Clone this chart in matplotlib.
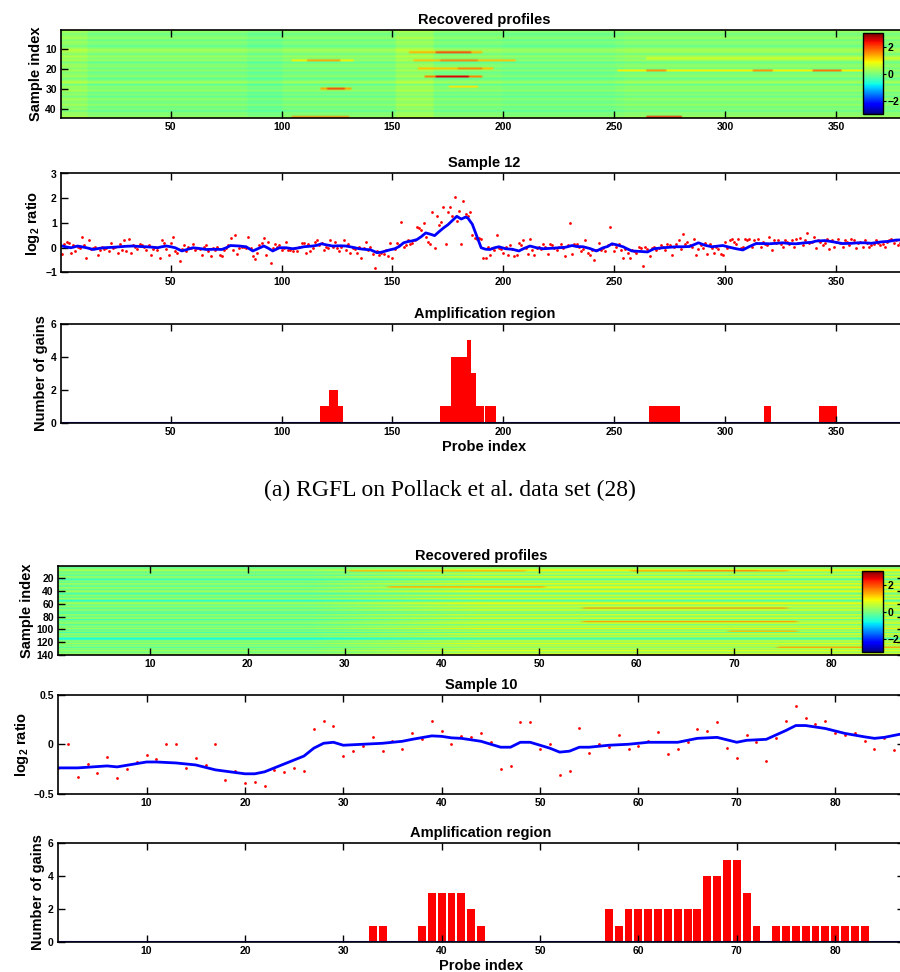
import numpy as np
import matplotlib
matplotlib.use("Agg")
import matplotlib.pyplot as plt
from matplotlib.ticker import FuncFormatter

plt.rcParams['font.family'] = ['Liberation Sans', 'DejaVu Sans']
plt.rcParams['font.weight'] = 'bold'
plt.rcParams['axes.titleweight'] = 'bold'
plt.rcParams['axes.labelweight'] = 'bold'
plt.rcParams['axes.titlesize'] = 10.5
plt.rcParams['axes.labelsize'] = 10.5
plt.rcParams['mathtext.fontset'] = 'custom'
plt.rcParams['mathtext.rm'] = 'Liberation Sans:bold'
plt.rcParams['mathtext.it'] = 'Liberation Sans:bold'
plt.rcParams['mathtext.bf'] = 'Liberation Sans:bold'

# ---------------- panel (a): Pollack data ----------------
a_n_probes = 382
a_n_samples = 44

# background level of each sample row
a_row_base = [0.2, 0.1, -0.1, 0.0, 0.2, -0.15, 0.1, 0.0, -0.2, 0.1,
              0.3, 0.15, -0.1, 0.25, 0.0, 0.2, -0.2, 0.05, 0.1, -0.1,
              0.15, -0.15, 0.0, 0.1, -0.2, 0.05, 0.3, -0.25, 0.1, 0.0,
              0.2, -0.15, 0.05, -0.2, 0.15, 0.0, -0.1, 0.2, -0.15, 0.05,
              -0.2, 0.1, 0.0, 0.25]
# (first probe, last probe, shift)
a_col_bands = [(1, 12, 0.15), (85, 100, -0.1), (152, 168, 0.2),
               (200, 250, -0.05), (255, 382, 0.05)]
# (sample, first probe, last probe, value)
a_hot = [(16, 105, 132, 0.9), (16, 112, 126, 1.4),
         (30, 118, 131, 1.4), (30, 121, 128, 2.0),
         (12, 158, 190, 1.3), (12, 170, 185, 2.0),
         (16, 160, 205, 1.2), (16, 172, 188, 1.6),
         (20, 162, 195, 1.2), (20, 180, 190, 1.6),
         (24, 165, 190, 1.6), (24, 170, 184, 2.5),
         (29, 176, 188, 1.0),
         (15, 265, 382, 0.6),
         (21, 252, 370, 0.9), (21, 265, 273, 1.5), (21, 313, 321, 1.5), (21, 340, 352, 1.7),
         (44, 105, 130, 1.5), (44, 265, 280, 2.2)]

a_ratio = [-0.25, 0.15, 0.25, 0.2, -0.2, 0.1, -0.15, 0.05, 0.0, 0.45,
           0.1, -0.4, 0.3, -0.05, 0.0, 0.05, -0.3, -0.1, 0.05, -0.05,
           0.0, -0.15, 0.2, 0.0, 0.05, -0.2, 0.15, -0.1, 0.3, -0.15,
           0.35, -0.2, 0.1, 0.05, -0.05, 0.15, 0.1, 0.05, -0.1, 0.1,
           -0.3, -0.05, 0.05, -0.1, -0.4, 0.3, 0.2, -0.05, -0.3, 0.2,
           0.45, -0.15, -0.2, -0.55, -0.05, 0.1, -0.15, 0.05, 0.0, 0.15,
           -0.1, 0.0, -0.05, -0.3, 0.05, 0.1, -0.15, -0.35, 0.0, -0.1,
           0.05, -0.3, -0.35, -0.1, 0.0, 0.1, 0.4, -0.1, 0.5, -0.25,
           0.0, 0.05, 0.05, 0.0, 0.45, 0.0, -0.35, -0.45, -0.2, 0.1,
           0.2, 0.4, -0.3, 0.25, -0.6, 0.0, 0.15, 0.05, 0.1, -0.1,
           0.0, 0.25, -0.1, -0.1, -0.15, 0.0, -0.15, 0.05, 0.2, 0.2,
           -0.2, 0.15, -0.15, 0.0, 0.25, 0.3, 0.1, 0.2, -0.1, 0.05,
           0.0, 0.3, 0.05, 0.25, 0.0, -0.15, 0.05, 0.3, -0.1, 0.15,
           -0.2, 0.0, -0.05, -0.2, 0.05, -0.4, 0.0, 0.25, -0.1, 0.05,
           -0.25, -0.8, -0.15, -0.3, -0.2, -0.25, -0.1, -0.35, 0.2, -0.4,
           -0.05, 0.2, 0.1, 1.05, 0.05, 0.1, 0.3, 0.15, 0.2, 0.3,
           0.85, 0.8, 0.7, 1.0, 0.45, 0.25, 0.15, 1.45, 0.0, 1.3,
           0.9, 1.05, 1.65, 0.15, 1.45, 1.65, 1.3, 2.05, 1.1, 1.5,
           0.15, 1.9, 1.35, 1.3, 1.45, 0.5, 0.4, 0.35, 0.4, 0.35,
           -0.4, -0.4, 0.05, -0.3, 0.0, -0.1, 0.5, 0.0, -0.05, -0.2,
           0.05, -0.3, 0.1, -0.05, -0.35, -0.3, 0.2, 0.1, 0.3, 0.0,
           -0.25, 0.35, -0.1, -0.3, 0.0, 0.05, -0.05, 0.15, 0.05, -0.25,
           0.15, 0.1, 0.0, -0.1, 0.05, 0.15, 0.0, -0.35, 0.1, 1.0,
           -0.25, 0.15, 0.15, 0.05, -0.15, -0.05, 0.3, -0.2, -0.3, -0.1,
           -0.5, -0.1, 0.2, -0.1, 0.0, -0.15, 0.1, 0.85, 0.15, -0.15,
           0.05, 0.15, -0.1, -0.4, -0.05, -0.2, -0.4, -0.1, -0.15, -0.2,
           0.05, 0.0, -0.75, 0.05, -0.05, -0.35, 0.0, 0.05, -0.1, 0.0,
           0.1, 0.05, -0.1, 0.15, 0.1, -0.3, 0.05, 0.15, 0.3, -0.05,
           0.55, 0.15, 0.25, 0.1, 0.05, 0.35, -0.3, -0.05, 0.1, 0.0,
           0.2, -0.25, 0.15, 0.0, -0.2, 0.05, -0.05, -0.25, -0.3, 0.25,
           0.0, 0.3, 0.35, 0.25, 0.15, 0.35, 0.0, 0.05, 0.35, 0.3,
           0.35, 0.05, 0.3, 0.2, 0.35, 0.05, 0.25, 0.15, 0.1, 0.45,
           -0.1, 0.3, 0.2, 0.3, 0.15, 0.05, 0.3, 0.25, 0.15, 0.3,
           0.05, 0.35, 0.2, 0.4, 0.1, 0.3, 0.6, 0.2, 0.25, 0.45,
           0.0, 0.3, 0.25, 0.1, 0.2, 0.35, -0.05, 0.3, 0.05, 0.25,
           0.35, 0.2, 0.05, 0.3, 0.25, 0.1, 0.35, 0.3, 0.0, 0.2,
           0.25, 0.05, 0.3, 0.2, 0.05, 0.1, 0.15, 0.3, 0.2, 0.1,
           0.15, 0.05, 0.25, 0.3, 0.35, 0.2, 0.3, 0.1, 0.2, 0.35,
           0.15, 0.25]

a_fit_x = [1, 3, 5, 8, 12, 15, 18, 20, 24, 27, 30, 33, 36, 39, 42, 44, 46, 48, 50, 52,
           55, 57, 60, 63, 66, 70, 73, 75, 77, 79, 81, 84, 87, 89, 92, 94, 96, 99, 102, 105,
           108, 110, 114, 116, 118, 120, 123, 126, 129, 132, 135, 138, 140, 143, 145, 147, 149, 151, 153, 155,
           157, 159, 161, 163, 165, 167, 169, 171, 173, 175, 177, 179, 181, 183, 184, 186, 188, 190, 192, 194,
           196, 198, 201, 204, 207, 209, 212, 215, 218, 222, 225, 228, 231, 233, 236, 239, 242, 245, 247, 249,
           251, 254, 256, 258, 262, 265, 268, 272, 275, 278, 281, 284, 288, 291, 294, 297, 299, 302, 305, 308,
           311, 314, 317, 320, 323, 326, 329, 332, 336, 339, 341, 345, 348, 351, 353, 357, 360, 363, 366, 369,
           371, 374, 377, 380, 382]
a_fit_y = [0.07, 0.03, 0.0, 0.07, 0.0, -0.07, -0.02, 0.0, 0.02, 0.04, 0.06, 0.07, 0.05, 0.04, 0.02, 0.0, 0.04, 0.07, 0.04, 0.0,
           -0.13, -0.08, 0.0, -0.03, -0.07, -0.06, -0.07, 0.0, 0.09, 0.08, 0.07, 0.04, -0.13, -0.05, 0.07, -0.02, -0.13, 0.0, 0.0, -0.04,
           0.0, 0.04, 0.07, 0.1, 0.16, 0.12, 0.07, 0.08, 0.07, 0.02, -0.04, -0.07, -0.08, -0.2, -0.18, -0.13, -0.08, -0.04, 0.05, 0.2,
           0.25, 0.28, 0.33, 0.45, 0.6, 0.55, 0.49, 0.65, 0.8, 0.93, 1.1, 1.27, 1.16, 1.24, 1.2, 0.95, 0.47, 0.0, -0.06, -0.07,
           0.0, 0.04, -0.04, -0.06, -0.13, -0.04, 0.07, 0.0, -0.04, -0.02, 0.0, 0.02, 0.09, 0.05, 0.04, -0.03, -0.13, 0.0, 0.05, 0.16,
           0.12, 0.04, -0.05, -0.13, -0.15, -0.17, -0.04, 0.0, 0.02, 0.04, 0.04, 0.05, 0.2, 0.1, 0.04, 0.07, 0.09, 0.02, -0.04, -0.09,
           0.05, 0.17, 0.17, 0.16, 0.18, 0.2, 0.17, 0.16, 0.2, 0.22, 0.27, 0.29, 0.25, 0.2, 0.17, 0.18, 0.2, 0.2, 0.18, 0.22,
           0.24, 0.26, 0.31, 0.32, 0.33]

a_gain_probe = [118, 119, 120, 121, 122, 123, 124, 125, 126, 127,
                172, 173, 174, 175, 176, 177, 178, 179, 180, 181, 182, 183, 184, 185, 186, 187,
                188, 189, 190, 191, 192, 193, 194, 195, 196,
                266, 267, 268, 269, 270, 271, 272, 273, 274, 275, 276, 277, 278, 279,
                318, 319, 320, 343, 344, 345, 346, 347, 348, 349, 350]
a_gain_count = [1, 1, 1, 1, 2, 2, 2, 2, 1, 1,
                1, 1, 1, 1, 1, 4, 4, 4, 4, 4, 4, 4, 5, 5, 3, 3,
                1, 1, 1, 1, 1, 1, 1, 1, 1,
                1, 1, 1, 1, 1, 1, 1, 1, 1, 1, 1, 1, 1, 1,
                1, 1, 1, 1, 1, 1, 1, 1, 1, 1, 1]

# ---------------- panel (b) ----------------
b_n_probes = 87
b_n_samples = 140
# row levels on the left (probes ~1-30) and right (probes ~45-87) of the map
b_row_left = [0.1, 0.15, 0.2, -0.2, -0.25, 0.0, 0.05, 0.3, 0.35, 0.3,
              -0.2, -0.25, 0.1, 0.1, 0.15, -0.35, -0.3, 0.2, 0.2, 0.0,
              0.05, -0.4, -0.45, -0.4, 0.1, 0.15, -0.2, -0.25, 0.25, 0.3,
              0.0, 0.0, -0.3, -0.35, 0.2, 0.25, 0.1, -0.15, -0.2, 0.1,
              0.3, 0.3, -0.1, -0.1, -0.4, -0.45, 0.15, 0.2, 0.0, -0.2,
              -0.25, 0.2, 0.25, 0.05, -0.5, -0.55, -0.5, 0.1, 0.15, 0.25,
              0.3, -0.1, -0.15, 0.0, 0.2, 0.2, -0.3, -0.35, 0.1, 0.1,
              0.25, -0.2, -0.2, 0.0, -0.4, -0.4, 0.2, 0.25, 0.0, -0.15,
              -0.2, 0.15, 0.2, 0.3, -0.45, -0.5, 0.1, 0.1, -0.2, 0.2,
              0.25, 0.0, -0.3, -0.35, 0.15, 0.2, -0.1, -0.1, 0.3, 0.3,
              -0.25, -0.3, 0.1, 0.15, -0.4, -0.4, 0.2, 0.25, 0.0, -0.2,
              0.15, 0.2, -0.3, -0.6, -0.7, -0.65, -0.3, 0.1, 0.15, 0.0,
              -0.2, 0.25, 0.3, -0.1, -0.15, 0.2, 0.2, -0.3, -0.35, 0.1,
              0.15, -0.2, 0.25, 0.3, -0.1, 0.1, -0.25, 0.2, 0.3, 0.35]
b_row_right = [0.4, 0.5, 0.6, 0.0, -0.1, 0.3, 0.4, 0.9, 1.0, 0.8,
               0.0, -0.1, 0.5, 0.5, 0.6, -0.2, -0.1, 0.7, 0.7, 0.3,
               0.3, -0.2, -0.3, -0.2, 0.5, 0.6, 0.0, 0.0, 0.8, 0.9,
               0.3, 0.3, -0.1, 0.9, 0.7, 0.8, 0.4, 0.0, 0.0, 0.5,
               0.8, 0.8, 0.2, 0.2, -0.2, -0.2, 0.6, 0.7, 0.3, 0.0,
               0.0, 0.6, 0.7, 0.3, -0.3, -0.3, -0.2, 0.4, 0.5, 0.8,
               0.9, 0.2, 0.1, 0.3, 0.6, 0.7, 0.0, 0.0, 0.5, 0.5,
               0.8, 0.0, 0.0, 0.3, -0.2, -0.2, 0.6, 0.7, 0.3, 0.1,
               0.0, 0.5, 0.6, 0.8, -0.2, -0.3, 0.5, 0.5, 0.0, 0.6,
               0.8, 0.3, -0.1, -0.1, 0.5, 0.6, 0.2, 0.2, 0.9, 0.9,
               0.0, -0.1, 0.5, 0.5, -0.2, -0.2, 0.7, 0.7, 0.3, 0.0,
               0.5, 0.6, 0.0, -0.3, -0.4, -0.3, 0.0, 0.5, 0.5, 0.3,
               0.0, 0.7, 0.8, 0.2, 0.1, 0.6, 0.6, 0.0, 0.0, 0.5,
               0.5, 0.0, 0.7, 0.8, 0.2, 0.4, 0.0, 0.6, 0.8, 0.9]
# (first sample, last sample, first probe, last probe, value)
b_hot = [(9, 10, 31, 48, 1.2), (9, 10, 60, 75, 1.3), (9, 10, 66, 72, 1.6),
         (34, 35, 35, 50, 1.3), (67, 68, 55, 75, 1.4), (88, 89, 55, 76, 1.4),
         (103, 104, 70, 76, 1.2), (128, 129, 75, 87, 1.4)]

b_ratio = [-0.24, 0.0, -0.33, -0.2, -0.29, -0.13, -0.34, -0.25, -0.18, -0.11,
           -0.15, 0.0, 0.0, -0.24, -0.14, -0.21, 0.0, -0.36, -0.27, -0.39,
           -0.38, -0.42, -0.26, -0.28, -0.24, -0.27, 0.15, 0.24, 0.19, -0.12,
           -0.07, -0.02, 0.07, -0.07, 0.03, -0.05, 0.11, 0.05, 0.24, 0.13,
           0.0, 0.08, 0.07, 0.11, 0.02, -0.25, -0.22, 0.23, 0.23, -0.05,
           0.0, -0.31, -0.27, 0.16, -0.09, 0.0, -0.03, 0.09, -0.05, -0.02,
           0.03, 0.12, -0.1, -0.05, 0.02, 0.15, 0.13, 0.23, -0.04, -0.14,
           0.09, 0.02, -0.17, 0.06, 0.24, 0.39, 0.27, 0.21, 0.24, 0.11,
           0.09, 0.11, 0.03, -0.05, 0.06, -0.06]
b_fit_x = [1, 3, 6, 7, 10, 11, 13, 15, 17, 20, 21, 22, 24, 26, 27, 28, 29, 30, 32, 34,
           36, 37, 39, 40, 41, 42, 44, 46, 47, 48, 49, 51, 52, 53, 54, 55, 57, 59, 61, 62,
           64, 66, 68, 70, 71, 73, 75, 76, 77, 79, 81, 83, 84, 85, 87]
b_fit_y = [-0.24, -0.24, -0.22, -0.23, -0.18, -0.18, -0.19, -0.21, -0.26, -0.3, -0.3, -0.28, -0.2, -0.12, -0.04, 0.01, 0.02, -0.01, 0.0, 0.01,
           0.03, 0.05, 0.085, 0.08, 0.065, 0.06, 0.03, -0.03, -0.03, 0.02, 0.02, -0.04, -0.08, -0.07, -0.03, -0.03, -0.01, 0.0, 0.02, 0.02,
           0.02, 0.06, 0.07, 0.02, 0.04, 0.05, 0.14, 0.19, 0.19, 0.16, 0.11, 0.075, 0.06, 0.07, 0.11]
b_gains = [0, 0, 0, 0, 0, 0, 0, 0, 0, 0, 0, 0, 0, 0, 0, 0, 0, 0, 0, 0,
           0, 0, 0, 0, 0, 0, 0, 0, 0, 0, 0, 0, 1, 1, 0, 0, 0, 1, 3, 3,
           3, 3, 2, 1, 0, 0, 0, 0, 0, 0, 0, 0, 0, 0, 0, 0, 2, 1, 2, 2,
           2, 2, 2, 2, 2, 2, 4, 4, 5, 5, 3, 1, 0, 1, 1, 1, 1, 1, 1, 1,
           1, 1, 1, 0, 0, 0, 0]

caption_a = '(a) RGFL on Pollack et al. data set (28)'

W, H = 900, 972
fig = plt.figure(figsize=(W / 100, H / 100), dpi=100)

num_fmt = FuncFormatter(lambda v, pos: ('%g' % v).replace('-', '\u2212'))


def rect(l, t, r, b):
    return [l / W, 1 - b / H, (r - l) / W, (b - t) / H]


def style(ax):
    ax.tick_params(direction='in', top=True, right=True, length=5, width=1,
                   labelsize=7.5, pad=3)
    ax.xaxis.set_major_formatter(num_fmt)
    ax.yaxis.set_major_formatter(num_fmt)
    for s in ax.spines.values():
        s.set_linewidth(1.2)


def add_colorbar(im, cax_rect):
    cax = fig.add_axes(cax_rect)
    cb = fig.colorbar(im, cax=cax, ticks=[-2, 0, 2])
    cb.outline.set_linewidth(1)
    cax.tick_params(labelsize=7.5, length=2, pad=1)
    cax.yaxis.set_major_formatter(num_fmt)


def heat_axes(ax, yticks, xticks):
    ax.set_yticks(yticks)
    ax.set_xticks(xticks)
    ax.set_title('Recovered profiles', pad=4.5)
    ax.set_ylabel('Sample index', labelpad=2)
    style(ax)


def ratio_panel(ax, x, y, fx, fy, xlim, ylim, yticks, xticks, title):
    ax.plot(x, y, 'o', color='red', ms=2.0, mew=0)
    ax.plot(fx, fy, color='blue', lw=2)
    ax.set_xlim(*xlim)
    ax.set_ylim(*ylim)
    ax.set_yticks(yticks)
    ax.set_xticks(xticks)
    ax.set_title(title, pad=4.5)
    ax.set_ylabel('log$_2$ ratio', labelpad=2)
    style(ax)


def gain_panel(ax, x, h, width, xlim, xticks):
    ax.bar(x, h, width=width, color='red', edgecolor='none')
    ax.axhline(0, color='blue', lw=1.5)
    ax.set_xlim(*xlim)
    ax.set_ylim(0, 6)
    ax.set_yticks([0, 2, 4, 6])
    ax.set_xticks(xticks)
    ax.set_title('Amplification region', pad=4.5)
    ax.set_ylabel('Number of gains', labelpad=2)
    ax.set_xlabel('Probe index', labelpad=2)
    style(ax)


# ---- panel (a) ----
heat_a = np.repeat(np.array(a_row_base, dtype=float)[:, None], a_n_probes, axis=1)
for c0, c1, d in a_col_bands:
    heat_a[:, c0 - 1:c1] += d
for r, c0, c1, v in a_hot:
    heat_a[r - 1, c0 - 1:c1] = v

ax1 = fig.add_axes(rect(61, 30, 908, 118))
im_a = ax1.imshow(heat_a, cmap='jet', vmin=-3, vmax=3, aspect='auto',
                  interpolation='bilinear',
                  extent=(0.5, a_n_probes + 0.5, a_n_samples + 0.5, 0.5))
heat_axes(ax1, [10, 20, 30, 40], [50, 100, 150, 200, 250, 300, 350])
add_colorbar(im_a, rect(863, 33.5, 883, 114))

ax2 = fig.add_axes(rect(61, 173.5, 908, 272.5))
ratio_panel(ax2, np.arange(1, len(a_ratio) + 1), a_ratio, a_fit_x, a_fit_y,
            (0.5, 382.5), (-1, 3), [-1, 0, 1, 2, 3],
            [50, 100, 150, 200, 250, 300, 350], 'Sample 12')

ax3 = fig.add_axes(rect(61, 324, 908, 422.7))
gain_panel(ax3, a_gain_probe, a_gain_count, 1.0, (0.5, 382.5),
           [50, 100, 150, 200, 250, 300, 350])

fig.text(0.5, 1 - 490 / H, caption_a, ha='center', va='center',
         family='Liberation Serif', weight='normal', size=17)

# ---- panel (b) ----
ax4 = fig.add_axes(rect(58, 566, 904, 655))
# row levels blend from the left block into the right block across the map
base_b = np.column_stack([b_row_left, b_row_left, b_row_right, b_row_right, b_row_right])
im_b = ax4.imshow(base_b, cmap='jet', vmin=-3, vmax=3, aspect='auto',
                  interpolation='bilinear',
                  extent=(0.5, b_n_probes + 0.5, b_n_samples + 0.5, 0.5))
hot_b = np.full((b_n_samples, b_n_probes), np.nan)
for r0, r1, c0, c1, v in b_hot:
    hot_b[r0 - 1:r1, c0 - 1:c1] = v
# transparent orange for empty cells so that smoothing does not darken the streaks
hot_cmap = plt.get_cmap('jet').with_extremes(bad=(1.0, 0.55, 0.0, 0.0))
ax4.imshow(np.ma.masked_invalid(hot_b), cmap=hot_cmap, vmin=-3, vmax=3, aspect='auto',
           interpolation='antialiased', interpolation_stage='rgba',
           extent=(0.5, b_n_probes + 0.5, b_n_samples + 0.5, 0.5))
ax4.set_xlim(0.5, b_n_probes + 0.5)
ax4.set_ylim(b_n_samples + 0.5, 0.5)
heat_axes(ax4, [20, 40, 60, 80, 100, 120, 140], [10, 20, 30, 40, 50, 60, 70, 80])
add_colorbar(im_b, rect(862, 571, 883, 652.3))

ax5 = fig.add_axes(rect(58, 695, 904, 793.5))
ratio_panel(ax5, np.arange(1, len(b_ratio) + 1), b_ratio, b_fit_x, b_fit_y,
            (1, 87), (-0.5, 0.5), [-0.5, 0, 0.5],
            [10, 20, 30, 40, 50, 60, 70, 80], 'Sample 10')

ax6 = fig.add_axes(rect(58, 843, 904, 942))
gain_panel(ax6, np.arange(1, len(b_gains) + 1), b_gains, 0.8, (1, 87),
           [10, 20, 30, 40, 50, 60, 70, 80])

fig.savefig('out.png', dpi=100)
